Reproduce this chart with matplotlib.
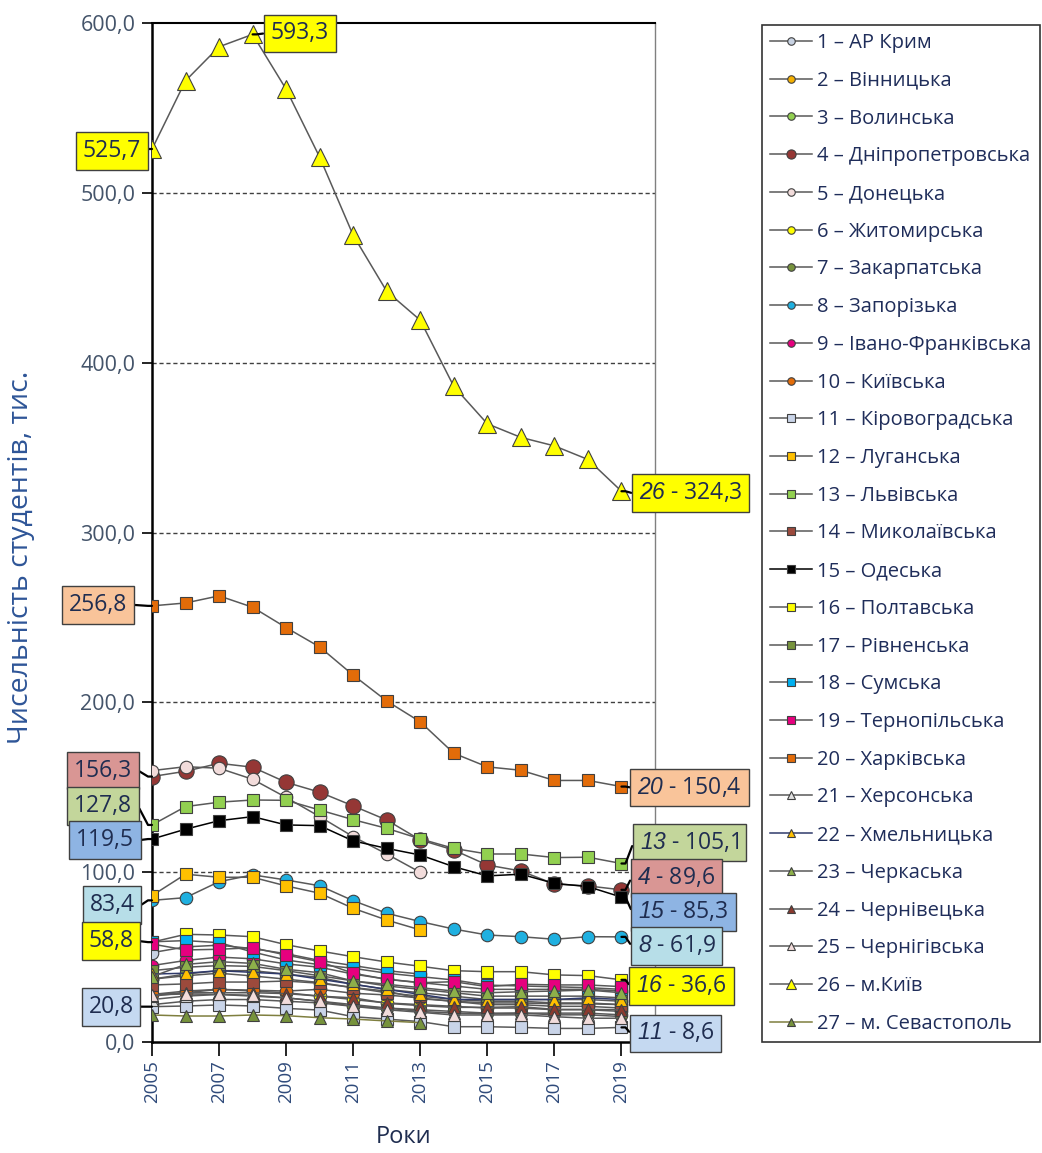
import numpy as np
import matplotlib
matplotlib.use('Agg')
import matplotlib.pyplot as plt
from matplotlib.ticker import FuncFormatter, FixedLocator

plt.rcParams['font.family'] = ['Open Sans', 'DejaVu Sans']
plt.rcParams['mathtext.fontset'] = 'custom'
plt.rcParams['mathtext.rm'] = 'Liberation Sans:italic'
plt.rcParams['mathtext.it'] = 'Liberation Sans:italic'

nan = np.nan
years = list(range(2005, 2020))

names = ["1 – АР Крим", "2 – Вінницька", "3 – Волинська", "4 – Дніпропетровська",
         "5 – Донецька", "6 – Житомирська", "7 – Закарпатська", "8 – Запорізька",
         "9 – Івано-Франківська", "10 – Київська", "11 – Кіровоградська", "12 – Луганська",
         "13 – Львівська", "14 – Миколаївська", "15 – Одеська", "16 – Полтавська",
         "17 – Рівненська", "18 – Сумська", "19 – Тернопільська", "20 – Харківська",
         "21 – Херсонська", "22 – Хмельницька", "23 – Черкаська", "24 – Чернівецька",
         "25 – Чернігівська", "26 – м.Київ", "27 – м. Севастополь"]

v01 = [52.6, 56, 57, 55, 52, 48, 45, 42, 40, nan, nan, nan, nan, nan, nan]
v02 = [37, 39, 40.5, 38.9, 37, 35, 32, 30, 25.5, 24, 23, 23, 22.5, 22.5, 22]
v03 = [37, 40, 42, 42, 40, 38, 34, 31, 29, 27, 25, 25, 25, 25, 24]
v04 = [156.3, 159.4, 164.1, 161.8, 152.9, 147.1, 139, 130.7, 119, 113, 104.2, 100.7, 93, 91.9, 89.6]
v05 = [159.8, 162.1, 161.2, 154.7, 144, 132.7, 120.9, 110.7, 99.9, nan, nan, nan, nan, nan, nan]
v06 = [28, 30, 31, 30, 29, 27, 25, 23, 22, 21, 20, 20, 19, 19, 18]
v07 = [22, 24, 25, 25, 24, 23, 21, 20, 19, 18, 17, 17, 17, 17, 16]
v08 = [83.4, 85, 94.4, 98.4, 95.4, 92, 83.2, 75.8, 70.9, 66.5, 63, 62, 60.5, 62, 61.9]
v09 = [45, 48, 50, 49, 46, 44, 40, 37, 35, 33, 31, 31, 31, 31, 30]
v10 = [28, 29, 31, 30.5, 30, 31, 28.7, 27.7, 25.9, 23.9, 22, 22, 21, 21, 20]
v11 = [20.8, 21.2, 21.8, 21.2, 19.8, 18.8, 14.9, 13.5, 12, 9, 9, 8.6, 8.0, 8.0, 8.6]
v12 = [86.2, 98.8, 97, 97, 91.9, 87.6, 78.7, 71.8, 66, nan, nan, nan, nan, nan, nan]
v13 = [127.8, 138.6, 141.2, 142.5, 142.3, 136.6, 130.9, 125.8, 119.6, 114, 110.7, 110.7, 108.6, 108.8, 105.1]
v14 = [33.6, 34.2, 35.3, 35.3, 35.9, 34.6, 32, 29, 27, 25, 24, 24, 23, 23, 22]
v15 = [119.5, 125.3, 130.3, 132.7, 127.8, 127.4, 118.4, 114, 110.1, 103.2, 97.8, 98.8, 93.4, 91.5, 85.3]
v16 = [58.8, 63.4, 63, 62, 57.3, 53.6, 50.2, 47.1, 44.6, 42, 41.4, 41.4, 39.5, 39.1, 36.6]
v17 = [42, 44, 45, 44.5, 42, 39, 36, 33, 31, 29, 27, 27, 27, 27, 26]
v18 = [59, 59.7, 58.5, 53, 48.3, 45.5, 43.4, 40.5, 38.5, 36.5, 33.5, 33, 32.5, 32, 31]
v19 = [57.7, 54.2, 54.6, 55.5, 51.2, 47.3, 40.5, 36.9, 34.9, 35.5, 32.6, 34, 33.6, 33.6, 32.6]
v20 = [256.8, 258.5, 262.7, 256, 244, 232.6, 216, 200.8, 188.5, 170, 162, 160, 154, 154, 150.4]
v21 = [25, 27, 28, 27, 26, 24, 22, 20, 18, 17, 16.5, 17, 16, 16, 15]
v22 = [40, 40.5, 42, 41, 40, 37, 34, 31, 28, 25.1, 25, 25, 25, 26, 25]
v23 = [38.5, 45.7, 47.3, 46.3, 42.8, 40.8, 35.9, 34, 32, 30, 29, 29.6, 30, 30.6, 29]
v24 = [27, 29, 29, 29, 28.5, 27, 26, 22.8, 21.4, 20.4, 20.4, 20.8, 19.2, 19.2, 19]
v25 = [27.7, 28.3, 28, 27.5, 26, 24, 21, 19, 17.5, 15.9, 15.9, 16, 14.9, 14, 14]
v26 = [525.7, 566, 586, 593.3, 561, 521, 475, 442, 425, 386, 364, 356, 351, 343, 324.3]
v27 = [15.9, 15.3, 15.3, 15.9, 15.5, 14.3, 13.5, 12.4, 11.4, nan, nan, nan, nan, nan, nan]

series = [v01, v02, v03, v04, v05, v06, v07, v08, v09, v10, v11, v12, v13, v14,
          v15, v16, v17, v18, v19, v20, v21, v22, v23, v24, v25, v26, v27]

faces = ['#C8D2E2', '#F5B000', '#92D050', '#953735', '#F2DCDB', '#FFFF00', '#77933C',
         '#1FB0E0', '#E6007E', '#E36C09', '#C9D4E8', '#FFC000', '#92D050', '#9C4A3C',
         '#000000', '#FFFF00', '#77933C', '#00B0F0', '#E6007E', '#E36C09', '#E0E0E0',
         '#FFC000', '#8DB04A', '#8B3A2E', '#F2DCDB', '#FFFF00', '#77933C']
markers = ['o'] * 10 + ['s'] * 10 + ['^'] * 7
msizes = [9] * 25 + [13, 9]
msizes[3] = 11
lcolors = ['#595959'] * 27
lcolors[14] = '#000000'
lcolors[21] = '#2F3A6B'
lcolors[26] = '#7F7F3F'

fig = plt.figure(figsize=(10.42, 11.53), dpi=100)
W, H = 1042, 1153
ax = fig.add_axes([152 / W, (H - 1042) / H, (655 - 152) / W, (1042 - 23) / H])

handles = []
for i in range(27):
    ln, = ax.plot(years, series[i], color=lcolors[i], lw=1.1, marker=markers[i],
                  ms=msizes[i], mfc=faces[i], mec='#404040', mew=0.8,
                  zorder=3 + (i == 25))
    handles.append(ln)

ax.set_xlim(2005, 2020)
ax.set_ylim(0, 600)
ax.yaxis.set_major_locator(FixedLocator([0, 100, 200, 300, 400, 500, 600]))
ax.yaxis.set_major_formatter(FuncFormatter(lambda v, p: f"{v:.1f}".replace('.', ',')))
ax.xaxis.set_major_locator(FixedLocator(list(range(2005, 2020, 2))))
ax.set_xticklabels([str(y) for y in range(2005, 2020, 2)], rotation=90)
ax.tick_params(axis='y', labelsize=15.5, labelcolor='#44546A', direction='out', length=7,
               width=1.2, color='black', pad=5)
ax.tick_params(axis='x', labelsize=13.5, labelcolor='#2F4A7A', direction='out', length=10,
               width=1.2, color='black', pad=3)
for v in [100, 200, 300, 400, 500]:
    ax.axhline(v, color='#404040', lw=1, ls=(0, (3, 2)), zorder=1)

ax.spines['left'].set_linewidth(1.8)
ax.spines['bottom'].set_linewidth(1.8)
ax.spines['top'].set_linewidth(1.5)
ax.spines['right'].set_color('#808080')
ax.spines['right'].set_linewidth(1)

ax.set_ylabel('Чисельність студентів, тис.', fontsize=20.5, color='#2E5597')
ax.yaxis.set_label_coords(-0.232, 0.476)
ax.set_xlabel('Роки', fontsize=17, color='#1F2D50')
ax.xaxis.set_label_coords(0.5, -0.081)

# annotations
def label(idx, yi, text, color, dx, dy, side):
    if side == 'left':
        cs = "arc,angleA=0,angleB=180,armA=6,armB=4,rad=0"
        rp = (1, 0.5)
    else:
        cs = "arc,angleA=180,angleB=0,armA=6,armB=4,rad=0"
        rp = (0, 0.5)
    ax.annotate(text, xy=(years[yi], series[idx][yi]), xytext=(dx, dy),
                textcoords='offset pixels', ha='center', va='center',
                fontsize=16.5, color='#1F2D50',
                bbox=dict(boxstyle='square,pad=0.3', fc=color, ec='#404040', lw=1),
                arrowprops=dict(arrowstyle='-', color='black', lw=1.6, shrinkA=0, shrinkB=0,
                                connectionstyle=cs, relpos=rp),
                zorder=6, annotation_clip=False)

yel = '#FFFF00'
label(25, 0, '525,7', yel, -40, -2, 'left')
label(25, 3, '593,3', yel, 47, 1, 'right')
label(19, 0, '256,8', '#F9C49A', -54, 1, 'left')
label(3, 0, '156,3', '#D99694', -49, 6, 'left')
label(12, 0, '127,8', '#C3D69B', -49, 19, 'left')
label(14, 0, '119,5', '#8EB4E3', -47, -1, 'left')
label(7, 0, '83,4', '#B7DEE8', -40, -5, 'left')
label(15, 0, '58,8', yel, -41, 1, 'left')
label(10, 0, '20,8', '#C5D9F1', -41, 0, 'left')

label(25, 14, r'$\mathrm{26}$ - 324,3', yel, 69, -2, 'right')
label(19, 14, r'$\mathrm{20}$ - 150,4', '#F9C49A', 68, -1, 'right')
label(12, 14, r'$\mathrm{13}$ - 105,1', '#C3D69B', 68, 21, 'right')
label(3, 14, r'$\mathrm{4}$ - 89,6', '#D99694', 55, 12, 'right')
label(14, 14, r'$\mathrm{15}$ - 85,3', '#8EB4E3', 62, -15, 'right')
label(7, 14, r'$\mathrm{8}$ - 61,9', '#B7DEE8', 55, -9, 'right')
label(15, 14, r'$\mathrm{16}$ - 36,6', yel, 60, -6, 'right')
label(10, 14, r'$\mathrm{11}$ - 8,6', '#C5D9F1', 54, -6, 'right')

leg = fig.legend(handles, names, loc='upper left',
                 bbox_to_anchor=(762 / W, 1 - 25 / H, (1040 - 762) / W, 0),
                 mode='expand', bbox_transform=fig.transFigure, fontsize=14.5,
                 frameon=True, fancybox=False, edgecolor='black', borderaxespad=0,
                 labelspacing=0.88, handlelength=2.1, handletextpad=0.25,
                 borderpad=0.4, markerscale=0.6)
leg.get_frame().set_linewidth(1.2)
for t in leg.get_texts():
    t.set_color('#1F2D5A')

fig.savefig('out.png', dpi=100)
